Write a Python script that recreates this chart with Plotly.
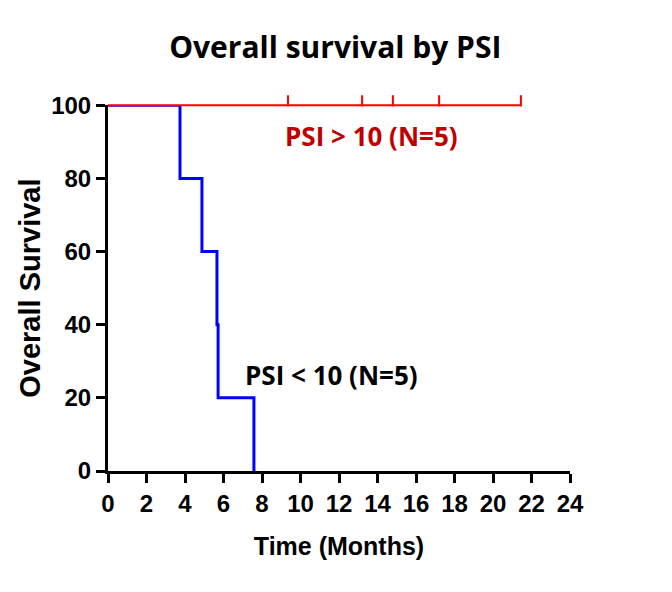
import plotly.graph_objects as go

# Kaplan-Meier steps
low_times = [0, 3.74, 4.88, 5.66, 5.72, 7.58]
low_survival = [100, 80, 60, 40, 20, 0]

high_times = [0, 21.45]
high_survival = [100, 100]
high_censored = [9.35, 13.2, 14.8, 17.2, 21.45]

x_ticks = list(range(0, 25, 2))
y_ticks = [0, 20, 40, 60, 80, 100]

BLUE = '#0000FF'
RED = '#FF0000'
DARK_RED = '#C00000'
AXIS_FONT = 'Liberation Sans, Arial'
LABEL_FONT = 'Open Sans, Lato, sans-serif'

# main y axis stops at 100; a hidden, slightly taller twin keeps the
# 100% line and its censor ticks from being clipped at the plot edge
MAIN_TOP = 0.96


def main():
    fig = go.Figure()
    fig.add_trace(go.Scatter(
        x=low_times, y=low_survival, mode='lines', line_shape='hv',
        line=dict(color=BLUE, width=3),
    ))
    fig.add_trace(go.Scatter(
        x=high_times, y=high_survival, mode='lines',
        line=dict(color=RED, width=2), yaxis='y2',
    ))
    fig.add_trace(go.Scatter(
        x=high_censored, y=[101.2] * len(high_censored), mode='markers',
        marker=dict(symbol='line-ns', size=8,
                    line=dict(color=RED, width=2)),
        yaxis='y2',
    ))

    fig.add_annotation(x=13.7, y=91.5, text='<b>PSI > 10 (N=5)</b>',
                       showarrow=False,
                       font=dict(family=LABEL_FONT, size=26, color=DARK_RED))
    fig.add_annotation(x=11.6, y=26.2, text='<b>PSI < 10 (N=5)</b>',
                       showarrow=False,
                       font=dict(family=LABEL_FONT, size=26, color='black'))

    axis_common = dict(
        showgrid=False, zeroline=False, showline=True, linecolor='black',
        linewidth=3, ticks='outside', ticklen=9, tickwidth=3,
        tickcolor='black',
        tickfont=dict(family=AXIS_FONT, size=24, color='black', weight='bold'),
    )
    fig.update_layout(
        width=672, height=592,
        margin=dict(l=100, r=110, t=82, b=129),
        paper_bgcolor='white', plot_bgcolor='rgba(0,0,0,0)',
        showlegend=False,
        title=dict(text='<b>Overall survival by PSI</b>', x=0.487,
                   xanchor='center', y=0.934, yanchor='middle',
                   font=dict(family=LABEL_FONT, size=30, color='black')),
        xaxis=dict(range=[0, 24], tickvals=x_ticks,
                   title=dict(text='<b>Time (Months)</b>', standoff=22,
                              font=dict(family=AXIS_FONT, size=25,
                                        color='black')),
                   **axis_common),
        yaxis=dict(range=[0, 100], tickvals=y_ticks, domain=[0, MAIN_TOP],
                   title=dict(text='<b>Overall Survival</b>', standoff=2,
                              font=dict(family=AXIS_FONT, size=29,
                                        color='black')),
                   **axis_common),
        yaxis2=dict(range=[0, 100 / MAIN_TOP], domain=[0, 1], anchor='x',
                    visible=False, showgrid=False, zeroline=False),
    )
    fig.write_html('out.html')


if __name__ == '__main__':
    main()
